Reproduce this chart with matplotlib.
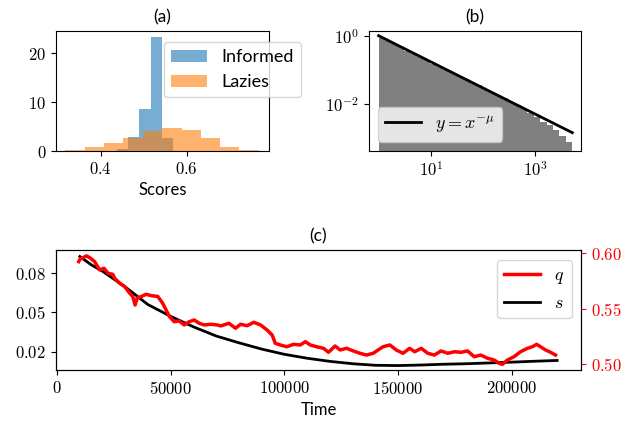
import numpy as np
import matplotlib
matplotlib.use('Agg')
import matplotlib.pyplot as plt
from matplotlib.ticker import NullLocator

plt.rcParams['mathtext.fontset'] = 'cm'
plt.rcParams['font.family'] = ['Lato', 'DejaVu Sans']
plt.rcParams['xtick.labelsize'] = 12
plt.rcParams['ytick.labelsize'] = 12

# (a) score histograms (density)
inf_edges = [0.437, 0.463, 0.490, 0.516, 0.543, 0.569]
inf_heights = [0.4, 2.93, 8.54, 23.4, 2.6]
lazy_edges = [0.317, 0.3635, 0.4077, 0.4526, 0.4977, 0.5426, 0.5884, 0.6326, 0.6774, 0.7223, 0.7688]
lazy_heights = [0.2, 0.88, 1.57, 2.73, 4.16, 4.64, 4.23, 2.6, 0.88, 0.2]

# (b) distribution on log-log axes
b_edges = np.logspace(0, 3.716, 31)
b_heights = [0.871, 0.692, 0.562, 0.457, 0.363, 0.295, 0.240, 0.195, 0.155, 0.126,
             0.102, 0.0832, 0.0676, 0.0537, 0.0437, 0.0355, 0.0288, 0.0229, 0.0186, 0.0151,
             0.0120, 0.00977, 0.00741, 0.00575, 0.00437, 0.00309, 0.00251, 0.00178, 0.00120, 0.00081]
line_x = [1.0, 5200.0]
line_y = [1.0, 0.0015]

# (c) time series
s_time = [10000, 15000, 20000, 30000, 40000, 50000, 60000, 70000, 80000, 90000, 100000,
          110000, 120000, 130000, 140000, 150000, 160000, 170000, 180000, 190000, 200000,
          210000, 220000]
s_vals = [0.0928, 0.0865, 0.0815, 0.0695, 0.0560, 0.0470, 0.0390, 0.0320, 0.0268, 0.0220, 0.0180,
          0.0150, 0.0126, 0.0108, 0.0096, 0.0094, 0.0098, 0.0104, 0.0108, 0.0114, 0.0120,
          0.0127, 0.0133]

q_time = [9500, 10200, 11400, 12900, 14400, 16500, 18700, 20600, 22400, 24500, 25300, 27500,
          29700, 31900, 33300, 34300, 35200, 37000, 39200, 41300, 44300, 46400, 47900, 49400,
          51500, 53700, 55900, 58100, 60300, 62500, 64700, 67600, 70500, 72000, 75600, 78500,
          80700, 83600, 86500, 89500, 92400, 94600, 96000, 98200, 101100, 104000, 107000, 109200,
          111400, 114200, 117200, 119400, 122300, 124500, 127400, 130300, 133200, 136100, 139100,
          141200, 143400, 146400, 149200, 152200, 155100, 157300, 160200, 163100, 166000, 168900,
          171900, 174800, 177700, 180600, 183500, 186400, 189400, 192300, 194500, 195900, 198100,
          201000, 203900, 206900, 209100, 211000, 212700, 214900, 217100, 219300]
q_vals = [0.5925, 0.595, 0.596, 0.5977, 0.596, 0.5925, 0.585, 0.5865, 0.582, 0.581, 0.5775, 0.573,
          0.570, 0.564, 0.561, 0.5533, 0.5594, 0.561, 0.563, 0.5618, 0.561, 0.555, 0.549, 0.543,
          0.5382, 0.5389, 0.5353, 0.5382, 0.5398, 0.5368, 0.5353, 0.5359, 0.5353, 0.5344, 0.5368, 0.5323,
          0.5359, 0.5346, 0.5377, 0.5353, 0.5307, 0.5262, 0.5187, 0.5172, 0.5156, 0.5178, 0.5172, 0.5202,
          0.5172, 0.5156, 0.5142, 0.5106, 0.5163, 0.5127, 0.5142, 0.5118, 0.5097, 0.5081, 0.5097,
          0.5127, 0.5156, 0.5172, 0.5127, 0.5097, 0.5142, 0.5111, 0.5142, 0.5097, 0.5081, 0.5118,
          0.5097, 0.5111, 0.5106, 0.5118, 0.5066, 0.5081, 0.5052, 0.5036, 0.5006, 0.4997, 0.5036,
          0.5066, 0.5111, 0.5142, 0.5156, 0.5178, 0.5156, 0.5127, 0.5106, 0.5081]


def mlabels(ticks, fmt):
    return ['$' + format(t, fmt) + '$' for t in ticks]


W, H = 641, 428
fig = plt.figure(figsize=(W / 100, H / 100), dpi=100)

##########
# (a)    #
##########
axA = fig.add_axes([56 / W, 1 - 151 / H, 213 / W, 120 / H])
axA.bar(inf_edges[:-1], inf_heights, width=np.diff(inf_edges), align='edge',
        color='C0', alpha=0.6, label='Informed')
axA.bar(lazy_edges[:-1], lazy_heights, width=np.diff(lazy_edges), align='edge',
        color='C1', alpha=0.6, label='Lazies')
axA.set_xlim(0.296, 0.791)
axA.set_ylim(0, 24.6)
axA.set_xticks([0.4, 0.6], mlabels([0.4, 0.6], 'g'))
axA.set_yticks([0, 10, 20], mlabels([0, 10, 20], 'd'))
axA.set_xlabel('Scores', fontsize=12)
axA.set_title('(a)', fontsize=12.5)
axA.legend(loc='upper right', bbox_to_anchor=(301 / W, 1 - 42 / H),
           bbox_transform=fig.transFigure, borderaxespad=0, fontsize=13)

##########
# (b)    #
##########
axB = fig.add_axes([368.5 / W, 1 - 151 / H, 212 / W, 120 / H])
axB.stairs(b_heights, b_edges, fill=True, color='gray', baseline=1e-5)
axB.plot(line_x, line_y, 'k-', lw=2, label=r'$y=x^{-\mu}$')
axB.set_xscale('log')
axB.set_yscale('log')
axB.set_xlim(0.64, 7450)
axB.set_ylim(4.4e-4, 1.37)
axB.set_xticks([10, 1000], ['$10^{1}$', '$10^{3}$'])
axB.set_yticks([1, 0.01], ['$10^{0}$', '$10^{-2}$'])
axB.xaxis.set_minor_locator(NullLocator())
axB.yaxis.set_minor_locator(NullLocator())
axB.set_title('(b)', fontsize=12.5)
axB.legend(loc='lower left', bbox_to_anchor=(377.7 / W, 1 - 142 / H),
           bbox_transform=fig.transFigure, borderaxespad=0, fontsize=13)

##########
# (c)    #
##########
axC = fig.add_axes([56 / W, 1 - 370 / H, 525 / W, 120 / H])
ls, = axC.plot(s_time, s_vals, 'k-', lw=2, label='$s$')
axC.set_xlim(-500, 230500)
axC.set_ylim(0.006, 0.0978)
xt = [0, 50000, 100000, 150000, 200000]
axC.set_xticks(xt, mlabels(xt, 'd'))
yt = [0.02, 0.05, 0.08]
axC.set_yticks(yt, mlabels(yt, '.2f'))
axC.set_xlabel('Time', fontsize=12)
axC.set_title('(c)', fontsize=12.5)

axD = axC.twinx()
lq, = axD.plot(q_time, q_vals, 'r-', lw=2.5, label='$q$')
axD.set_ylim(0.4946, 0.603)
yt2 = [0.50, 0.55, 0.60]
axD.set_yticks(yt2, mlabels(yt2, '.2f'))
axD.tick_params(axis='y', colors='red')
axD.legend(handles=[lq, ls], loc='upper right', bbox_to_anchor=(571.7 / W, 1 - 260 / H),
           bbox_transform=fig.transFigure, borderaxespad=0, fontsize=13)

fig.savefig('out.png', dpi=100)
